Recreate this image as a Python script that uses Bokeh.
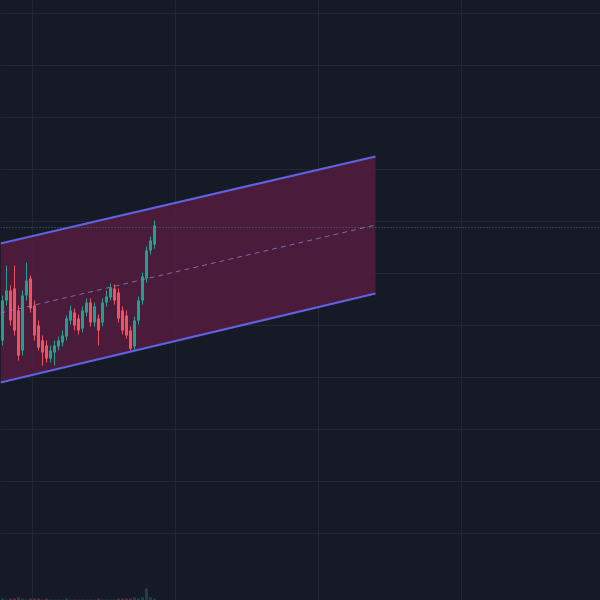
from bokeh.plotting import figure
from bokeh.models import FixedTicker, Range1d, ColumnDataSource
from bokeh.embed import file_html
from bokeh.resources import INLINE

# ---- data (price units = chart units) ----
opens  = [260, 300, 310, 312, 290, 250, 305, 322, 295, 275, 260, 255, 242, 248, 254, 258, 264, 280, 288, 282,
          272, 288, 298, 278, 282, 278, 298, 303, 312, 308, 290, 285, 270, 254, 280, 300, 322, 350, 356]
closes = [300, 310, 280, 270, 245, 305, 320, 292, 265, 253, 248, 242, 250, 255, 260, 265, 282, 290, 275, 270,
          290, 298, 278, 294, 270, 298, 304, 313, 300, 282, 270, 265, 252, 280, 300, 324, 350, 360, 375]
highs  = [305, 335, 315, 335, 295, 310, 338, 325, 300, 280, 265, 260, 255, 260, 264, 270, 285, 295, 292, 286,
          294, 302, 302, 298, 286, 302, 310, 317, 316, 312, 294, 290, 274, 284, 304, 328, 354, 364, 380]
lows   = [255, 295, 275, 265, 240, 245, 300, 288, 260, 250, 235, 238, 238, 235, 250, 254, 260, 276, 270, 266,
          268, 284, 274, 274, 255, 274, 294, 300, 296, 278, 266, 262, 250, 250, 276, 296, 318, 346, 352]
volumes = [2, 1, 2, 2, 3, 2, 1, 2, 2, 2, 1, 2, 1, 1, 1, 1, 2, 1, 1, 1,
           1, 1, 1, 1, 2, 1, 1, 1, 1, 2, 2, 2, 2, 3, 2, 3, 12, 3, 2]

channel_x     = [-0.5, 93.25]
channel_upper = [357, 444]
channel_lower = [218, 307]
last_price = 373

x_grid_ticks = [7.5, 43.25, 79, 114.75]
y_grid_ticks = [587, 535, 483, 431, 379, 327, 275, 223, 171, 119, 67]

BG = "#161a26"
UP = "#22a08e"
DOWN = "#ef5360"

p = figure(width=600, height=600, output_backend="svg", toolbar_location=None,
           x_range=Range1d(-0.5, 149.5), y_range=Range1d(0, 600),
           x_axis_location=None, y_axis_location=None, min_border=0)
p.background_fill_color = BG
p.border_fill_color = BG
p.outline_line_color = None
p.xgrid.ticker = FixedTicker(ticks=x_grid_ticks)
p.ygrid.ticker = FixedTicker(ticks=y_grid_ticks)
p.xgrid.grid_line_color = "#232733"
p.ygrid.grid_line_color = "#232733"
p.xgrid.grid_line_width = 1
p.ygrid.grid_line_width = 1

p.extra_y_ranges = {"vol": Range1d(0, 600)}

# channel fill
p.varea(x=channel_x, y1=channel_lower, y2=channel_upper, fill_color="#561c40", fill_alpha=0.82)

# price line
p.line(x=[-0.5, 149.5], y=[last_price, last_price], line_color="#3f6f78", line_width=1, line_dash="1 2")

xs = list(range(len(opens)))
colors = [UP if c >= o else DOWN for o, c in zip(opens, closes)]
src = ColumnDataSource(dict(x=xs, o=opens, c=closes, h=highs, l=lows, col=colors,
                            top=[max(o, c) for o, c in zip(opens, closes)],
                            bot=[min(o, c) for o, c in zip(opens, closes)],
                            v=volumes))

# volume
p.vbar(x="x", top="v", bottom=0, width=0.75, fill_color="col", line_color=None,
       fill_alpha=0.3, source=src, y_range_name="vol")

# candles
p.segment(x0="x", y0="l", x1="x", y1="h", line_color="col", line_width=1, source=src)
p.vbar(x="x", top="top", bottom="bot", width=0.75, fill_color="col", line_color=None, source=src)

# midline
mid = [(a + b) / 2 for a, b in zip(channel_upper, channel_lower)]
p.line(x=channel_x, y=mid, line_color="#8a7fc4", line_width=1, line_dash="5 4", line_alpha=0.8)

# channel borders
p.line(x=channel_x, y=channel_upper, line_color="#5f62e0", line_width=2.2)
p.line(x=channel_x, y=channel_lower, line_color="#5f62e0", line_width=2.2)

html = file_html(p, INLINE)
html = html.replace("<head>", "<head><style>html,body{margin:0;padding:0;background:#161a26;overflow:hidden}</style>", 1)
open("out.html", "w").write(html)
